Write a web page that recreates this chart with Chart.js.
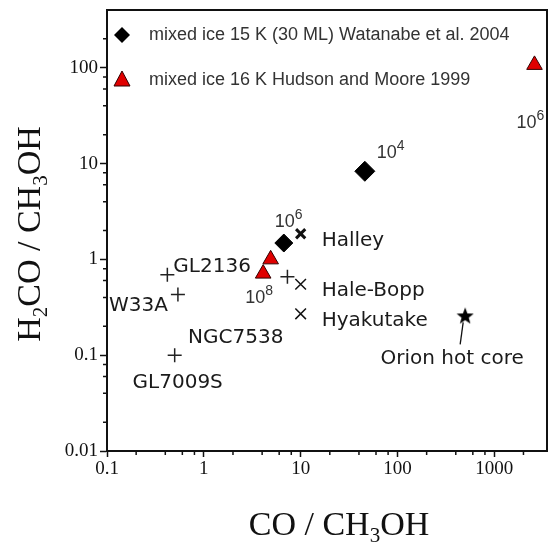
<!DOCTYPE html>
<html>
<head>
<meta charset="utf-8">
<script src="https://cdn.jsdelivr.net/npm/chart.js@4.4.1/dist/chart.umd.min.js"></script>
<style>
    html, body { margin: 0; padding: 0; background: #fff; }
    #wrap { width: 548px; height: 543px; position: relative; }
</style>
</head>
<body>
<div id="wrap"><canvas id="ratioChart"></canvas></div>
<script>
// x = CO / CH3OH, y = H2CO / CH3OH
const watanabeCO = [6.7, 46];
const watanabeH2CO = [1.48, 8.3];
const watanabeDose = [6, 4];          // exponent n of the "10^n" label

const hudsonCO = [4.1, 4.9, 2600];
const hudsonH2CO = [0.71, 1.0, 107];
const hudsonDose = [8, null, 6];

const cometNames = ['Halley', 'Hale-Bopp', 'Hyakutake'];
const cometCO = [10, 10, 10];
const cometH2CO = [1.85, 0.55, 0.27];

const ysoNames = ['GL2136', 'W33A', 'GL7009S', 'NGC7538'];
const ysoCO = [0.42, 0.54, 0.50, 7.3];
const ysoH2CO = [0.69, 0.43, 0.10, 0.66];

const orionNames = ['Orion hot core'];
const orionCO = [500];
const orionH2CO = [0.26];

const xTicks = [0.1, 1, 10, 100, 1000];
const yTicks = [0.01, 0.1, 1, 10, 100];
const minorSteps = [2, 4, 6, 8];

const legendLabels = [
    'mixed ice 15 K (30 ML) Watanabe et al. 2004',
    'mixed ice 16 K Hudson and Moore 1999'
];

(function () {
    const toPoints = (xs, ys) => xs.map((x, i) => ({ x, y: ys[i] }));

    const labelFont = '20px "DejaVu Sans"';
    const doseFont = '18px "Liberation Sans"';
    const expFont = '14px "Liberation Sans"';
    const serif = '"Liberation Serif"';

    // where each name sits relative to its marker
    const namePlacement = {
        'Halley': { dx: 21, dy: 12, align: 'left' },
        'Hale-Bopp': { dx: 21, dy: 12, align: 'left' },
        'Hyakutake': { dx: 21, dy: 12, align: 'left' },
        'GL2136': { dx: 6, dy: -3, align: 'left' },
        'W33A': { dx: -10, dy: 17, align: 'right' },
        'GL7009S': { dx: 3, dy: 33, align: 'center' },
        'NGC7538': { dx: -4, dy: 66, align: 'right' },
        'Orion hot core': { dx: -13, dy: 49, align: 'center' }
    };
    const dosePlacement = {
        watanabe: [{ dx: -9, dy: -16 }, { dx: 12, dy: -13 }],
        hudson: [{ dx: -18, dy: 29 }, null, { dx: -18, dy: 63 }]
    };

    function makeStar(size) {
        const c = document.createElement('canvas');
        c.width = size;
        c.height = size;
        const g = c.getContext('2d');
        const R = size / 2, r = R * 0.42;
        g.beginPath();
        for (let i = 0; i < 10; i++) {
            const rad = i % 2 ? r : R;
            const a = -Math.PI / 2 + i * Math.PI / 5;
            g.lineTo(R + rad * Math.cos(a), R + 1 + rad * Math.sin(a));
        }
        g.closePath();
        g.fillStyle = '#000';
        g.fill();
        return c;
    }

    function drawRich(ctx, parts, x, y, size) {
        // parts: [text, mode] where mode '' | 'sub'
        const widths = parts.map(([t, m]) => {
            ctx.font = (m ? size * 0.62 : size) + 'px ' + serif;
            return ctx.measureText(t).width;
        });
        let cx = x - widths.reduce((a, b) => a + b, 0) / 2;
        parts.forEach(([t, m], i) => {
            ctx.font = (m ? size * 0.62 : size) + 'px ' + serif;
            const dy = m === 'sub' ? size * 0.22 : 0;
            ctx.fillText(t, cx, y + dy);
            cx += widths[i];
        });
    }

    function drawDose(ctx, n, x, y) {
        ctx.fillStyle = '#333';
        ctx.textAlign = 'left';
        ctx.textBaseline = 'alphabetic';
        ctx.font = doseFont;
        ctx.fillText('10', x, y);
        const w = ctx.measureText('10').width;
        ctx.font = expFont;
        ctx.fillText(String(n), x + w, y - 8);
    }

    const decorPlugin = {
        id: 'decor',
        afterDraw(chart) {
            const ctx = chart.ctx;
            const area = chart.chartArea;
            const xs = chart.scales.x, ys = chart.scales.y;
            ctx.save();

            // frame top/right
            ctx.strokeStyle = '#111';
            ctx.lineWidth = 2;
            ctx.beginPath();
            ctx.moveTo(area.left, area.top);
            ctx.lineTo(area.right, area.top);
            ctx.lineTo(area.right, area.bottom);
            ctx.stroke();

            // minor ticks
            ctx.lineWidth = 1.5;
            ctx.beginPath();
            for (let d = -2; d <= 4; d++) {
                minorSteps.forEach((m) => {
                    const v = m * Math.pow(10, d);
                    if (v > xs.min && v < xs.max) {
                        const px = xs.getPixelForValue(v);
                        ctx.moveTo(px, area.bottom);
                        ctx.lineTo(px, area.bottom + 4);
                    }
                    if (v > ys.min && v < ys.max) {
                        const py = ys.getPixelForValue(v);
                        ctx.moveTo(area.left, py);
                        ctx.lineTo(area.left - 4, py);
                    }
                });
            }
            ctx.stroke();

            // point names
            ctx.fillStyle = '#1a1a1a';
            ctx.font = labelFont;
            ctx.textBaseline = 'alphabetic';
            chart.data.datasets.forEach((ds, i) => {
                if (!ds.names) return;
                const meta = chart.getDatasetMeta(i);
                ds.names.forEach((name, j) => {
                    const p = namePlacement[name];
                    const el = meta.data[j];
                    ctx.textAlign = p.align;
                    ctx.fillText(name, el.x + p.dx, el.y + p.dy);
                    if (name === 'Orion hot core') {
                        ctx.strokeStyle = '#111';
                        ctx.lineWidth = 1.3;
                        ctx.beginPath();
                        ctx.moveTo(el.x - 5, el.y + 29);
                        ctx.lineTo(el.x - 2, el.y + 7);
                        ctx.stroke();
                    }
                });
            });

            // dose labels
            chart.data.datasets.forEach((ds, i) => {
                if (!ds.doses) return;
                const meta = chart.getDatasetMeta(i);
                ds.doses.forEach((n, j) => {
                    const p = dosePlacement[ds.key][j];
                    if (n === null || !p) return;
                    drawDose(ctx, n, meta.data[j].x + p.dx, meta.data[j].y + p.dy);
                });
            });

            // legend
            const lx = area.left + 15;
            const rows = [area.top + 25, area.top + 70];
            ctx.fillStyle = '#000';
            ctx.beginPath();
            ctx.moveTo(lx - 8, rows[0]);
            ctx.lineTo(lx, rows[0] - 8);
            ctx.lineTo(lx + 8, rows[0]);
            ctx.lineTo(lx, rows[0] + 8);
            ctx.closePath();
            ctx.fill();
            ctx.fillStyle = '#e00000';
            ctx.strokeStyle = '#300';
            ctx.lineWidth = 1;
            ctx.beginPath();
            ctx.moveTo(lx, rows[1] - 9);
            ctx.lineTo(lx + 8, rows[1] + 6);
            ctx.lineTo(lx - 8, rows[1] + 6);
            ctx.closePath();
            ctx.fill();
            ctx.stroke();
            ctx.fillStyle = '#333';
            ctx.font = '18px "Liberation Sans"';
            ctx.textAlign = 'left';
            ctx.textBaseline = 'middle';
            legendLabels.forEach((t, i) => ctx.fillText(t, lx + 27, rows[i]));

            // axis titles
            ctx.fillStyle = '#111';
            ctx.textAlign = 'left';
            ctx.textBaseline = 'alphabetic';
            drawRich(ctx, [['CO / CH', ''], ['3', 'sub'], ['OH', '']], 339, 535, 34);
            ctx.translate(40, 234);
            ctx.rotate(-Math.PI / 2);
            drawRich(ctx, [['H', ''], ['2', 'sub'], ['CO / CH', ''], ['3', 'sub'], ['OH', '']], 0, 0, 34);
            ctx.restore();
        }
    };

    const axisTicks = (list) => (scale) => {
        scale.ticks = list.map((v) => ({ value: v }));
    };

    new Chart(document.getElementById('ratioChart'), {
        type: 'scatter',
        data: {
            datasets: [
                {
                    key: 'watanabe',
                    data: toPoints(watanabeCO, watanabeH2CO),
                    doses: watanabeDose,
                    pointStyle: 'rectRot',
                    pointRadius: [9, 10],
                    backgroundColor: '#000',
                    borderColor: '#000',
                    borderWidth: 1
                },
                {
                    key: 'hudson',
                    data: toPoints(hudsonCO, hudsonH2CO),
                    doses: hudsonDose,
                    pointStyle: 'triangle',
                    pointRadius: 9,
                    backgroundColor: '#e00000',
                    borderColor: '#300',
                    borderWidth: 1
                },
                {
                    data: toPoints(cometCO, cometH2CO),
                    names: cometNames,
                    pointStyle: 'crossRot',
                    pointRadius: [6.5, 7.5, 7.5],
                    borderColor: '#111',
                    borderWidth: [3, 1.5, 1.5]
                },
                {
                    data: toPoints(ysoCO, ysoH2CO),
                    names: ysoNames,
                    pointStyle: 'cross',
                    pointRadius: 7,
                    borderColor: '#222',
                    borderWidth: 1.5
                },
                {
                    data: toPoints(orionCO, orionH2CO),
                    names: orionNames,
                    pointStyle: makeStar(18)
                }
            ]
        },
        options: {
            responsive: true,
            maintainAspectRatio: false,
            animation: false,
            events: [],
            layout: { autoPadding: false, padding: { top: 10, right: 1, left: 0, bottom: 0 } },
            plugins: {
                legend: { display: false },
                tooltip: { enabled: false }
            },
            scales: {
                x: {
                    type: 'logarithmic',
                    min: 0.1,
                    max: 3500,
                    afterBuildTicks: axisTicks(xTicks),
                    afterFit: (s) => { s.height = 92; s.paddingLeft = 0; s.paddingRight = 0; },
                    ticks: {
                        autoSkip: false,
                        maxRotation: 0,
                        color: '#111',
                        padding: 1,
                        font: { family: 'Liberation Serif', size: 19 },
                        callback: (v) => String(v)
                    },
                    grid: { drawOnChartArea: false, tickLength: 6, tickColor: '#111', tickWidth: 1.5 },
                    border: { color: '#111', width: 2 }
                },
                y: {
                    type: 'logarithmic',
                    min: 0.01,
                    max: 400,
                    afterBuildTicks: axisTicks(yTicks),
                    afterFit: (s) => { s.width = 107; s.paddingTop = 0; s.paddingBottom = 0; },
                    ticks: {
                        autoSkip: false,
                        color: '#111',
                        padding: 2,
                        font: { family: 'Liberation Serif', size: 19 },
                        callback: (v) => String(v)
                    },
                    grid: { drawOnChartArea: false, tickLength: 7, tickColor: '#111', tickWidth: 1.5 },
                    border: { color: '#111', width: 2 }
                }
            }
        },
        plugins: [decorPlugin]
    });
})();
</script>
</body>
</html>
